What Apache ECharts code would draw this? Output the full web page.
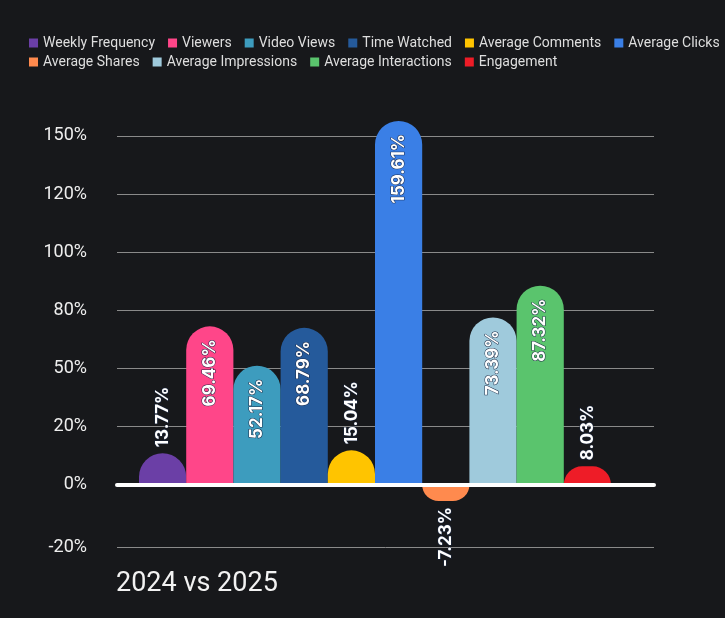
<!DOCTYPE html>
<html><head><meta charset="utf-8">
<script src="https://cdn.jsdelivr.net/npm/echarts@6/dist/echarts.min.js"></script>
<style>html,body{margin:0;padding:0;background:#17181b;}#c{width:725px;height:618px;}</style>
</head><body><div id="c"></div>
<script>
const categoryLabel = ['2024 vs 2025'];
const seriesNames = ['Weekly Frequency','Viewers','Video Views','Time Watched','Average Comments','Average Clicks','Average Shares','Average Impressions','Average Interactions','Engagement'];
const seriesValues = [13.77, 69.46, 52.17, 68.79, 15.04, 159.61, -7.23, 73.39, 87.32, 8.03];
const seriesColors = ['#6b3fa6','#ff4689','#3d9cbe','#255a9b','#ffc400','#3a7fe6','#ff8a4e','#9fcadc','#5ac46d','#ee1c27'];
const yTickValues = [-27.5, 0, 25.5, 51, 76.5, 102, 127.5, 153];
const yTickLabels = ['-20%','0%','20%','50%','80%','100%','120%','150%'];

const FONT = 'Roboto';
const LABEL_FONT = 'Inter';
const yMin = -27.5, yMax = 160;
const gridPos = {top: 120, bottom: 70.7};

function tickLabel(v) {
  let best = 0, bd = Infinity;
  yTickValues.forEach((t, i) => { const d = Math.abs(t - v); if (d < bd) { bd = d; best = i; } });
  return yTickLabels[best];
}

function labelFor(v) {
  const base = {show: true, rotate: 90, color: '#ffffff', fontFamily: LABEL_FONT, fontWeight: 'bold', fontSize: 17,
    textBorderColor: '#1d2a45', textBorderWidth: 1, verticalAlign: 'middle',
    formatter: p => p.value.toFixed(2) + '%'};
  if (v > 40) return Object.assign(base, {position: 'insideTop', align: 'right', distance: 13});
  if (v >= 0) return Object.assign(base, {position: 'top', align: 'left', distance: 6});
  return Object.assign(base, {position: 'bottom', align: 'right', distance: 6});
}

const series = seriesNames.map((name, i) => ({
  name, type: 'bar', xAxisIndex: 1, yAxisIndex: 1,
  data: [seriesValues[i]],
  barGap: 0, barCategoryGap: 0,
  itemStyle: {color: seriesColors[i], borderRadius: seriesValues[i] >= 0 ? [24,24,0,0] : [0,0,24,24]},
  label: labelFor(seriesValues[i])
}));

const chart = echarts.init(document.getElementById('c'), null, {renderer: 'canvas'});
chart.setOption({
  backgroundColor: '#17181b',
  animation: false,
  textStyle: {fontFamily: FONT},
  title: {text: categoryLabel[0], left: 116, top: 568, padding: 0,
    textStyle: {color: '#f2f2f2', fontSize: 27, fontWeight: 'normal', fontFamily: FONT, lineHeight: 32}},
  legend: {left: 29, top: 35, width: 705, padding: 0, itemWidth: 9, itemHeight: 9, itemGap: 3,
    icon: 'rect', textStyle: {color: '#dedede', fontSize: 14, fontFamily: FONT, lineHeight: 16, padding: [0, 10, 0, 0]},
    data: seriesNames},
  grid: [
    {left: 117, right: 71, top: gridPos.top, bottom: gridPos.bottom},
    {left: 139, right: 114, top: gridPos.top, bottom: gridPos.bottom}
  ],
  xAxis: [
    {gridIndex: 0, type: 'category', data: categoryLabel, z: 10,
      axisLine: {onZero: true, lineStyle: {color: '#ffffff', width: 4}},
      axisTick: {show: false}, axisLabel: {show: false}, splitLine: {show: false}},
    {gridIndex: 1, type: 'category', data: categoryLabel, show: false}
  ],
  yAxis: [
    {gridIndex: 0, type: 'value', min: yMin, max: yMax,
      axisLine: {show: false},
      axisTick: {show: false, customValues: yTickValues},
      axisLabel: {customValues: yTickValues, formatter: v => tickLabel(v), color: '#eeeeee', fontSize: 18, fontFamily: FONT, margin: 30},
      splitLine: {lineStyle: {color: '#8a8a8a', width: 1}}},
    {gridIndex: 1, type: 'value', min: yMin, max: yMax, show: false}
  ],
  series
});
</script></body></html>
